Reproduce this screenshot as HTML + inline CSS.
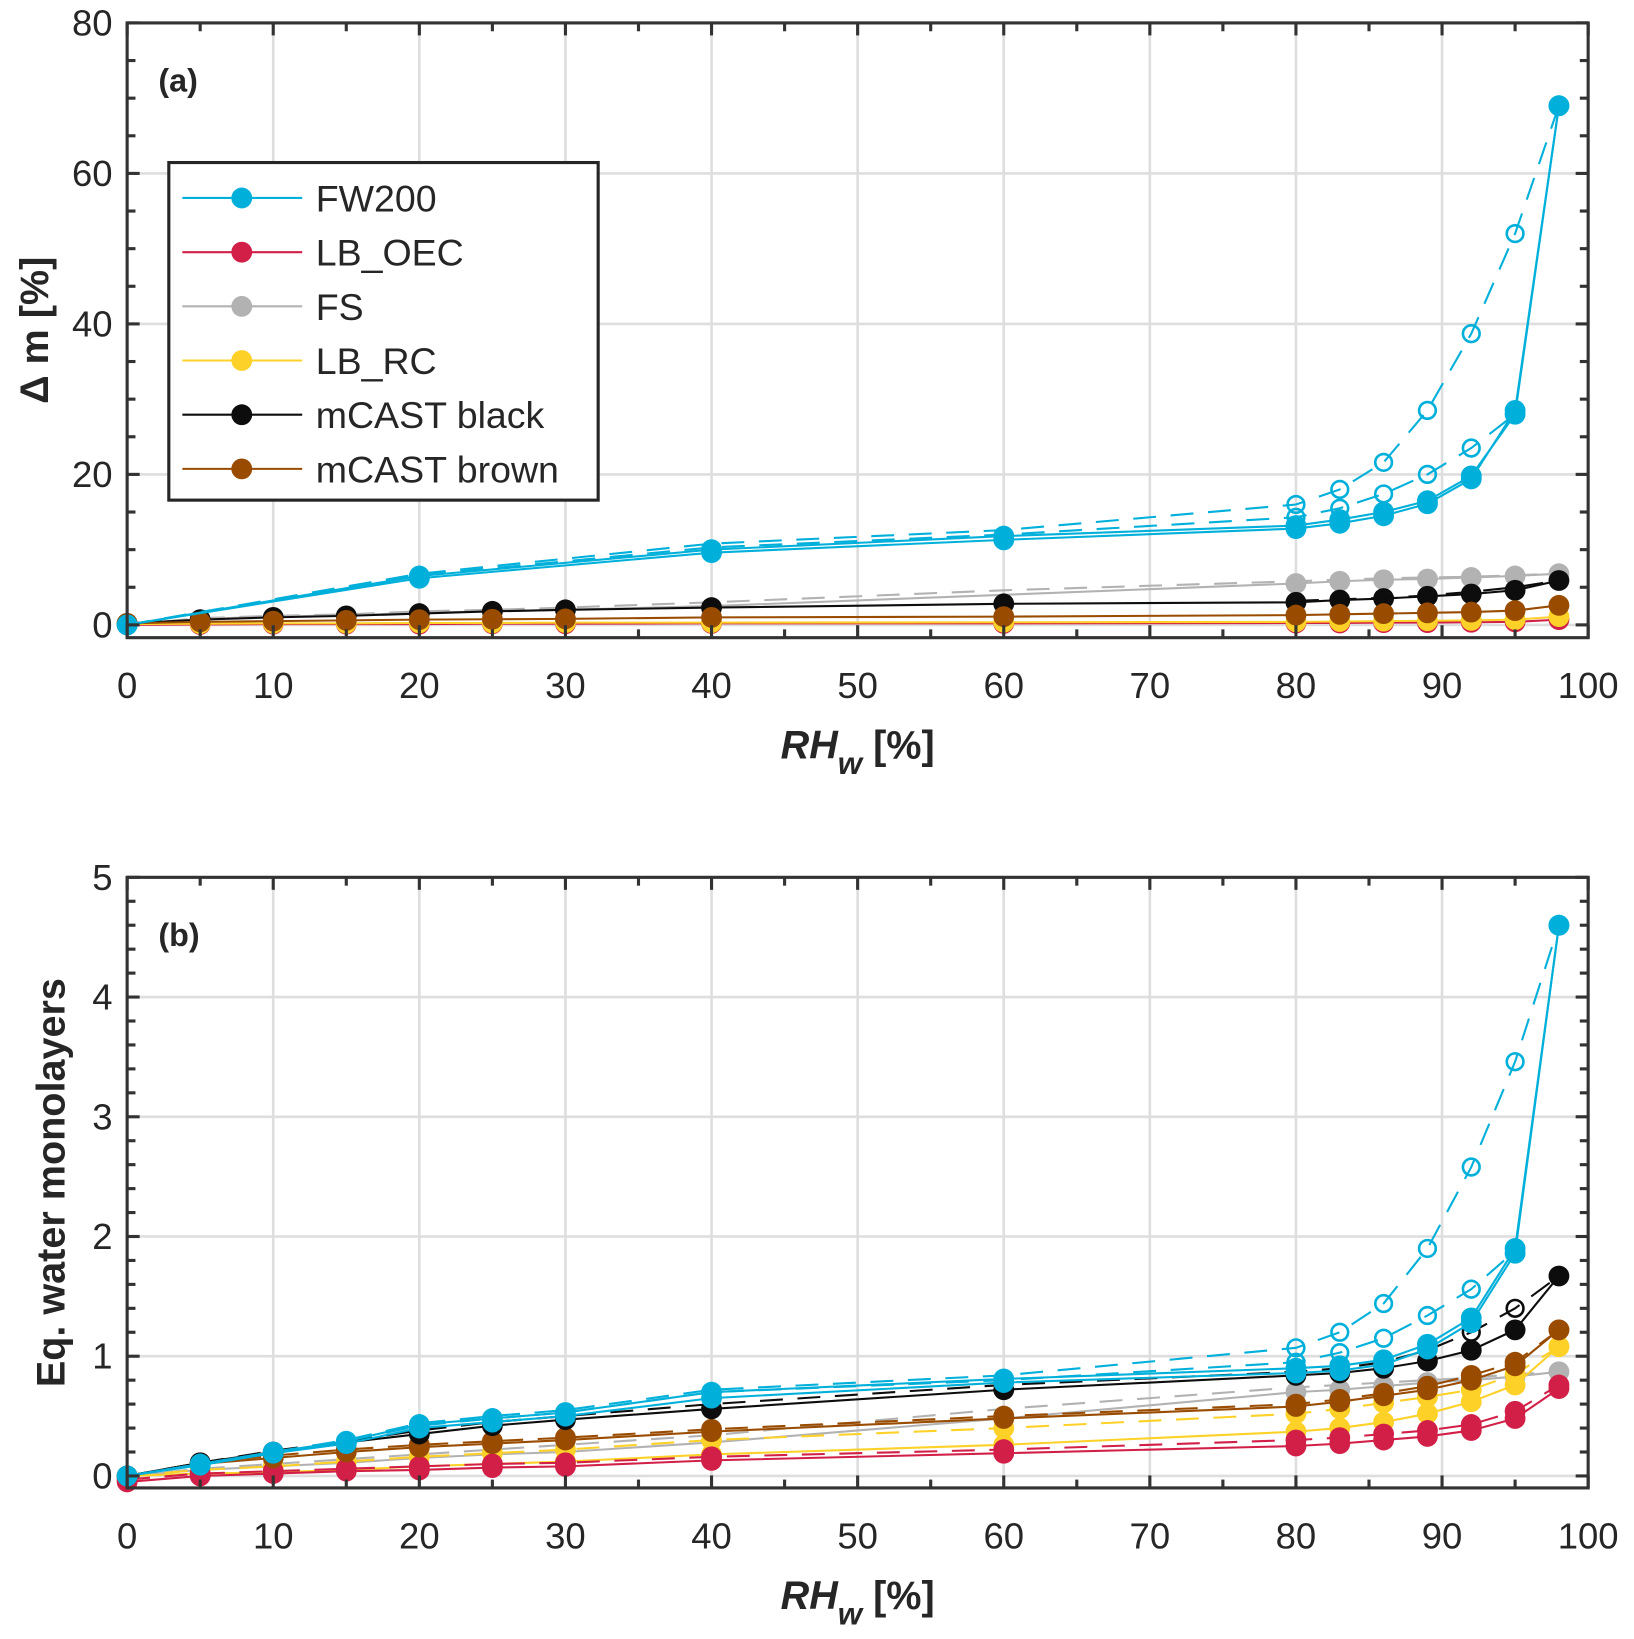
<!DOCTYPE html>
<html><head><meta charset="utf-8"><style>
html,body{margin:0;padding:0;background:#fff}
svg{display:block}
text{font-family:"Liberation Sans",Arial,sans-serif;fill:#262626}
</style></head><body>
<svg id="chart" width="1634" height="1639" viewBox="0 0 1568 1573" preserveAspectRatio="none" xmlns="http://www.w3.org/2000/svg">
<g id="root"></g>
</svg>
<script>
// ---- data ----
const xAll = [0,5,10,15,20,25,30,40,60,80,83,86,89,92,95,98];
const xSparse = [0,20,40,60,80,83,86,89,92,95,98];
const xHigh = [80,83,86,89,92,95,98];
const xTicks = [0,10,20,30,40,50,60,70,80,90,100];
const yTicksA = [0,20,40,60,80];
const yTicksB = [0,1,2,3,4,5];
const legendNames = ["FW200","LB_OEC","FS","LB_RC","mCAST black","mCAST brown"];
const colors = {fw:"#00b0da", lb:"#d21f47", fs:"#b2b2b2", rc:"#fdd128", bk:"#0d0d0d", br:"#994c00"};

// panel (a)
const aFW1 = [0,6.5,10,11.8,13.2,14,15,16.5,19.8,28,69];
const aFW2 = [0,6.2,9.6,11.3,12.8,13.5,14.5,16.1,19.4,28.5,69];
const aFWd1 = [0,6.8,10.8,12.6,16,18,21.6,28.5,38.7,52,69];
const aFWd2 = [0,6.6,10.3,12,14.3,15.5,17.4,20,23.5,28];
const aFS = [0,0.8,1.1,1.3,1.6,1.8,2,2.5,4,5.5,5.8,6,6.1,6.3,6.5,6.8];
const aFSd = [0,0.9,1.2,1.4,1.8,2,2.3,3,4.6,5.8,6,6.2,6.3,6.4,6.6,6.8];
const aBK = [0.2,0.7,1,1.2,1.5,1.8,2,2.3,2.8,3,3.3,3.5,3.8,4.1,4.6,5.9];
const aBKd = [3.2,3.4,3.6,3.9,4.4,5,5.9];
const aBR = [0.2,0.4,0.5,0.6,0.7,0.75,0.8,1,1.1,1.3,1.4,1.5,1.6,1.7,1.9,2.6];
const aRC = [0.1,0.15,0.2,0.2,0.25,0.25,0.3,0.3,0.35,0.4,0.45,0.5,0.55,0.6,0.7,1.1];
const aLB = [0,0.05,0.1,0.1,0.1,0.15,0.15,0.2,0.2,0.25,0.25,0.3,0.3,0.35,0.4,0.7];

// panel (b)
const bFW1 = [0,0.1,0.2,0.29,0.43,0.48,0.53,0.7,0.81,0.9,0.92,0.97,1.1,1.32,1.9,4.6];
const bFW2 = [0,0.09,0.19,0.27,0.4,0.45,0.5,0.65,0.78,0.86,0.88,0.93,1.06,1.28,1.86,4.6];
const bFWd1 = [0,0.1,0.2,0.3,0.44,0.5,0.55,0.72,0.84,1.07,1.2,1.44,1.9,2.58,3.46,4.6];
const bFWd2 = [0,0.1,0.2,0.29,0.42,0.48,0.53,0.7,0.8,0.95,1.03,1.15,1.34,1.56,1.88];
const bBK = [0,0.11,0.2,0.28,0.35,0.42,0.47,0.56,0.72,0.84,0.86,0.9,0.96,1.05,1.22,1.67];
const bBKd = [0,0.11,0.21,0.29,0.38,0.45,0.5,0.6,0.76,0.87,0.9,0.95,1.05,1.2,1.4,1.67];
const bFS = [0,0.05,0.08,0.11,0.15,0.18,0.2,0.28,0.48,0.7,0.72,0.75,0.78,0.8,0.83,0.87];
const bFSd = [0,0.06,0.1,0.14,0.18,0.22,0.26,0.34,0.56,0.74,0.76,0.78,0.8,0.82,0.85,0.87];
const bBR = [0,0.1,0.15,0.2,0.24,0.27,0.3,0.37,0.48,0.58,0.62,0.67,0.72,0.8,0.92,1.22];
const bBRd = [0,0.11,0.17,0.22,0.26,0.29,0.32,0.39,0.5,0.6,0.64,0.69,0.75,0.84,0.95,1.22];
const bRC = [0,0.02,0.03,0.05,0.08,0.1,0.12,0.18,0.26,0.37,0.4,0.45,0.52,0.62,0.76,1.08];
const bRCd = [0,0.05,0.08,0.12,0.16,0.19,0.22,0.3,0.4,0.52,0.56,0.61,0.66,0.72,0.85,1.08];
const bLB = [-0.05,0,0.02,0.04,0.05,0.07,0.08,0.13,0.19,0.25,0.27,0.3,0.33,0.38,0.48,0.73];
const bLBd = [-0.03,0.02,0.04,0.06,0.08,0.1,0.11,0.16,0.22,0.3,0.32,0.35,0.38,0.43,0.54,0.76];

const NS="http://www.w3.org/2000/svg";
const root=document.getElementById('root');
function el(tag,attrs,parent){const e=document.createElementNS(NS,tag);for(const k in attrs)e.setAttribute(k,attrs[k]);(parent||root).appendChild(e);return e;}

function makePanel(P){
  const g=el('g',{});
  
  
  const X=v=>P.L+(v-0)/(100-0)*(P.R-P.L);
  const Y=v=>P.B-(v-P.ymin)/(P.ymax-P.ymin)*(P.B-P.T);
  xTicks.forEach(t=>{ if(t>0&&t<100){const l=el('line',{x1:X(t),x2:X(t),y1:P.T,y2:P.B,stroke:'#dedede','stroke-width':2.5},g);
    }});
  P.yt.forEach(t=>{ if(t>P.ymin&&t<P.ymax){const l=el('line',{x1:P.L,x2:P.R,y1:Y(t),y2:Y(t),stroke:'#dedede','stroke-width':2.5},g);
    }});
  P.series.forEach(s=>{
    const xs=s.x, ys=s.y;
    const pts=ys.map((v,i)=>X(xs[i])+','+Y(v)).join(' ');
    const pl=el('polyline',{points:pts,fill:'none',stroke:s.c,'stroke-width':2,'stroke-dasharray':s.d?'22,14':'none'},g);
    
    
    ys.forEach((v,i)=>{
      if(s.mx && !s.mx.includes(xs[i])) return;
      const c=el('circle',{cx:X(xs[i]),cy:Y(v),r:s.o?8:10,fill:s.o?'none':s.c,stroke:s.c,'stroke-width':s.o?2.5:0},g);
      
      
    });
  });
  const box=el('rect',{x:P.L,y:P.T,width:P.R-P.L,height:P.B-P.T,fill:'none',stroke:'#333','stroke-width':3},g);
  
  for(let t=0;t<=100;t+=5){const len=t%10===0?12:8;
    el('line',{x1:X(t),x2:X(t),y1:P.B,y2:P.B-len,stroke:'#333','stroke-width':3},g);
    el('line',{x1:X(t),x2:X(t),y1:P.T,y2:P.T+len,stroke:'#333','stroke-width':3},g);}
  for(let t=P.ymin0;t<=P.ymax+1e-9;t+=P.minor){const maj=Math.abs(t/P.major-Math.round(t/P.major))<1e-6;const len=maj?12:8;
    el('line',{x1:P.L,x2:P.L+len,y1:Y(t),y2:Y(t),stroke:'#333','stroke-width':3},g);
    el('line',{x1:P.R,x2:P.R-len,y1:Y(t),y2:Y(t),stroke:'#333','stroke-width':3},g);}
  xTicks.forEach(t=>{const tx=el('text',{x:X(t),y:P.B+58,'font-size':35,'text-anchor':'middle'},g);tx.textContent=t;
    });
  P.yt.forEach(t=>{const tx=el('text',{x:P.L-14,y:Y(t)+12,'font-size':35,'text-anchor':'end'},g);tx.textContent=t;
    });
  const xt=el('text',{x:(P.L+P.R)/2,y:P.B+116,'font-size':38,'font-weight':'bold','text-anchor':'middle'},g);
  
  xt.innerHTML='<tspan font-style="italic">RH</tspan><tspan font-style="italic" font-size="30" dy="15">w</tspan><tspan dy="-15"> [%]</tspan>';
  const yt=el('text',{x:0,y:0,'font-size':38,'font-weight':'bold','text-anchor':'middle',transform:`translate(${P.ylx},${(P.T+P.B)/2}) rotate(-90)`},g);
  yt.textContent=P.ylabel;
  const pl=el('text',{x:P.L+30,y:P.T+66,'font-size':31,'font-weight':'bold'},g);
  pl.textContent=P.tag;
}

makePanel({name:'panel-a',L:122,R:1524,T:22,B:612,ymin:-1.7,ymax:80,ymin0:0,major:20,minor:5,yt:yTicksA,ylx:46,ylabel:'Δ m [%]',tag:'(a)',
  series:[
    {n:'fs-dashed',x:xAll,y:aFSd,c:colors.fs,d:1,o:1,mx:[]},
    {n:'fs',x:xAll,y:aFS,c:colors.fs,mx:xHigh},
    {n:'lb-oec',x:xAll,y:aLB,c:colors.lb},
    {n:'lb-rc',x:xAll,y:aRC,c:colors.rc},
    {n:'mcast-black',x:xAll,y:aBK,c:colors.bk},
    {n:'mcast-black-dashed',x:xHigh,y:aBKd,c:colors.bk,d:1,mx:[]},
    {n:'mcast-brown',x:xAll,y:aBR,c:colors.br},
    {n:'fw200-dashed-1',x:xSparse,y:aFWd1,c:colors.fw,d:1,o:1,mx:xHigh.slice(0,6)},
    {n:'fw200-dashed-2',x:xSparse.slice(0,10),y:aFWd2,c:colors.fw,d:1,o:1,mx:xHigh.slice(0,5)},
    {n:'fw200-run-1',x:xSparse,y:aFW1,c:colors.fw},
    {n:'fw200-run-2',x:xSparse,y:aFW2,c:colors.fw}
  ]});

makePanel({name:'panel-b',L:122,R:1524,T:842,B:1428,ymin:-0.1,ymax:5,ymin0:0,major:1,minor:0.2,yt:yTicksB,ylx:62,ylabel:'Eq. water monolayers',tag:'(b)',
  series:[
    {n:'fs-dashed',x:xAll,y:bFSd,c:colors.fs,d:1,mx:[]},
    {n:'fs',x:xAll,y:bFS,c:colors.fs,mx:xHigh},
    {n:'lb-rc-dashed',x:xAll,y:bRCd,c:colors.rc,d:1},
    {n:'lb-rc',x:xAll,y:bRC,c:colors.rc},
    {n:'lb-oec-dashed',x:xAll,y:bLBd,c:colors.lb,d:1},
    {n:'lb-oec',x:xAll,y:bLB,c:colors.lb},
    {n:'mcast-brown-dashed',x:xAll,y:bBRd,c:colors.br,d:1},
    {n:'mcast-brown',x:xAll,y:bBR,c:colors.br},
    {n:'mcast-black-dashed',x:xAll,y:bBKd,c:colors.bk,d:1,o:1,mx:[86,89,92,95]},
    {n:'mcast-black',x:xAll,y:bBK,c:colors.bk},
    {n:'fw200-dashed-1',x:xAll,y:bFWd1,c:colors.fw,d:1,o:1,mx:xHigh.slice(0,6)},
    {n:'fw200-dashed-2',x:xAll.slice(0,15),y:bFWd2,c:colors.fw,d:1,o:1,mx:xHigh.slice(0,5)},
    {n:'fw200-run-1',x:xAll,y:bFW1,c:colors.fw},
    {n:'fw200-run-2',x:xAll,y:bFW2,c:colors.fw}
  ]});

const lg=el('g',{});


const lbox=el('rect',{x:162,y:156,width:412,height:324,fill:'#fff',stroke:'#262626','stroke-width':3},lg);

const legColors=[colors.fw,colors.lb,colors.fs,colors.rc,colors.bk,colors.br];
legendNames.forEach((nm,i)=>{
  const y=190+i*52;
  const e=el('g',{},lg);
  
  
  el('line',{x1:175,x2:290,y1:y,y2:y,stroke:legColors[i],'stroke-width':2},e);
  el('circle',{cx:232,cy:y,r:10,fill:legColors[i]},e);
  const t=el('text',{x:303,y:y+13,'font-size':36,fill:'#000'},e);
  t.textContent=nm;
});
</script>
</body></html>
